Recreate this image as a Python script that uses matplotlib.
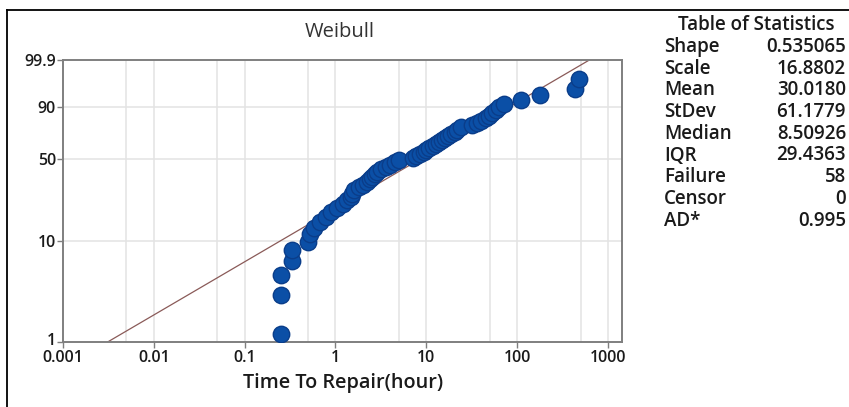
import numpy as np
import matplotlib
matplotlib.use("Agg")
import matplotlib.pyplot as plt
import matplotlib.transforms as mtransforms
from matplotlib.lines import Line2D

plt.rcParams['font.family'] = ['Open Sans', 'DejaVu Sans']

# repair times (hour), sorted
times = [0.25, 0.25, 0.25, 0.33, 0.33, 0.50, 0.52, 0.58, 0.67, 0.78,
         0.90, 1.05, 1.20, 1.35, 1.50, 1.52, 1.60, 1.80, 2.00, 2.20,
         2.40, 2.55, 2.70, 2.90, 3.20, 3.60, 4.00, 4.50, 5.00, 7.20,
         7.80, 8.50, 9.40, 10.0, 10.8, 11.8, 12.8, 13.8, 14.8, 16.0,
         17.2, 18.8, 20.5, 22.0, 24.0, 32.0, 36.0, 40.0, 45.0, 49.0,
         53.0, 58.0, 64.0, 72.0, 110, 180, 435, 480]
# percent (median ranks) for each point
percent = [1.20, 2.91, 4.62, 6.34, 8.05, 9.76, 11.47, 13.18, 14.90, 16.61,
           18.32, 20.03, 21.75, 23.46, 25.17, 26.88, 28.60, 30.31, 32.02, 33.73,
           35.45, 37.16, 38.87, 40.58, 42.29, 44.01, 45.72, 47.43, 49.14, 50.86,
           52.57, 54.28, 55.99, 57.71, 59.42, 61.13, 62.84, 64.55, 66.27, 67.98,
           69.69, 71.40, 73.12, 74.83, 76.54, 78.25, 79.97, 81.68, 83.39, 85.10,
           86.82, 88.53, 90.24, 91.95, 93.66, 95.38, 97.09, 98.80]

# fitted line end points
fit_time = [0.0031, 625]
fit_pct = [1, 99.9]

xticks = [0.001, 0.01, 0.1, 1, 10, 100, 1000]
xticklabels = ["0.001", "0.01", "0.1", "1", "10", "100", "1000"]
yticks = [1, 10, 50, 90, 99.9]
yticklabels = ["1", "10", "50", "90", "99.9"]

stat_names = ["Shape", "Scale", "Mean", "StDev", "Median", "IQR", "Failure", "Censor", "AD*"]
stat_values = ["0.535065", "16.8802", "30.0180", "61.1779", "8.50926", "29.4363", "58", "0", "0.995"]


def fwd(p):
    p = np.clip(np.asarray(p, dtype=float), 1e-6, 100 - 1e-6)
    return np.log(-np.log(1 - p / 100.0))


def inv(w):
    return 100.0 * (1 - np.exp(-np.exp(w)))


W, H = 849, 407
fig = plt.figure(figsize=(W / 100, H / 100), dpi=100)
ax = fig.add_axes([63 / W, 1 - 342 / H, (622 - 63) / W, (342 - 60) / H])
ax.set_xscale('log')
ax.set_yscale('function', functions=(fwd, inv))
ax.set_xlim(0.001, 1430)
ax.set_ylim(1, 99.9)

# grid
for g in [0.005, 0.01, 0.05, 0.1, 0.5, 1, 5, 10, 50, 100, 500, 1000]:
    ax.axvline(g, color='#e3e3e3', lw=1.1, zorder=0)
for g in [10, 50, 90]:
    ax.axhline(g, color='#e3e3e3', lw=1.1, zorder=0)

ax.plot(fit_time, fit_pct, color='#8a5a58', lw=0.9, zorder=2)
ax.scatter(times, percent, s=140, color='#0b4fa6', edgecolors='#0a3d8a',
           linewidths=1.0, zorder=3)

ax.set_xticks(xticks)
ax.set_xticklabels(xticklabels)
ax.set_xticks([], minor=True)
ax.set_yticks(yticks)
ax.set_yticklabels(yticklabels)
ax.set_yticks([], minor=True)
ax.tick_params(axis='both', length=4, width=1, color='#7f7f7f', labelsize=11.5,
               labelcolor='#1a1a1a', pad=1)
ax.tick_params(axis='x', pad=2)
for lab in ax.get_xticklabels() + ax.get_yticklabels():
    lab.set_fontweight('semibold')
# nudge the bottom "1" up a little so it doesn't sit on "0.001"
lab1 = ax.get_yticklabels()[0]
lab1.set_transform(lab1.get_transform() +
                   mtransforms.ScaledTranslation(0, 3 / 100, fig.dpi_scale_trans))
for s in ax.spines.values():
    s.set_color('#7f7f7f')
    s.set_linewidth(1.4)

fig.text(340 / W, 1 - 32 / H, "Weibull", ha='center', va='center',
         fontsize=14.5, color='#333333')
fig.text(343 / W, 1 - 383 / H, "Time To Repair(hour)", ha='center', va='center',
         fontsize=14.3, fontweight='semibold', color='#1a1a1a')

# statistics table
fig.text(756 / W, 1 - 25 / H, "Table of Statistics", ha='center', va='center',
         fontsize=13.5, fontweight='semibold', color='#1a1a1a')
for i in range(len(stat_names)):
    yy = 1 - (47 + i * 21.7) / H
    fig.text(664 / W, yy, stat_names[i], ha='left', va='center',
             fontsize=13.5, fontweight='semibold', color='#1a1a1a')
    fig.text(846 / W, yy, stat_values[i], ha='right', va='center',
             fontsize=13.5, fontweight='semibold', color='#1a1a1a')

# outer frame (left and top)
fig.add_artist(Line2D([7 / W, 7 / W], [0, 1 - 10 / H], color='black', lw=1.3))
fig.add_artist(Line2D([7 / W, 1], [1 - 10 / H, 1 - 10 / H], color='black', lw=1.3))

fig.savefig("out.png", dpi=100)
